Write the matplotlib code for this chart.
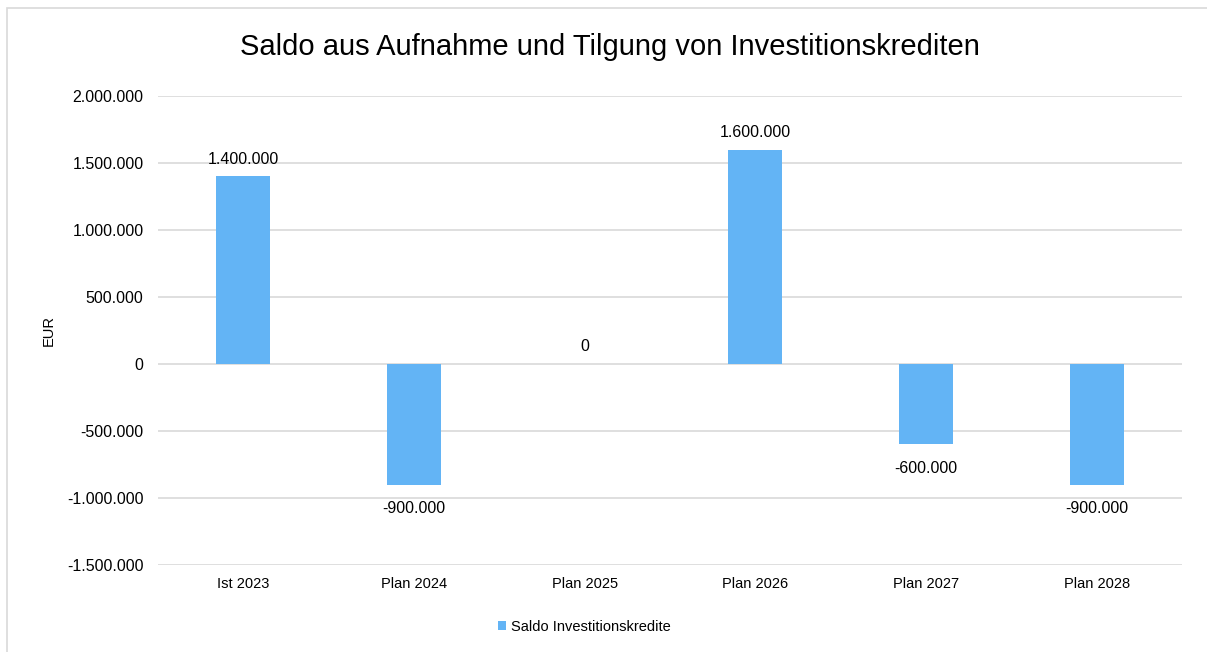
import matplotlib
matplotlib.use('Agg')
import matplotlib.pyplot as plt
from matplotlib.ticker import FuncFormatter
from matplotlib.patches import Rectangle

categories = ['Ist 2023', 'Plan 2024', 'Plan 2025', 'Plan 2026', 'Plan 2027', 'Plan 2028']
saldo = [1400000, -900000, 0, 1600000, -600000, -900000]
series_name = 'Saldo Investitionskredite'
title = 'Saldo aus Aufnahme und Tilgung von Investitionskrediten'

plt.rcParams['font.family'] = ['Liberation Sans', 'DejaVu Sans']

def de_fmt(v, pos=None):
    return f'{int(round(v)):,}'.replace(',', '.')

fig = plt.figure(figsize=(12.07, 6.52), dpi=100)
ax = fig.add_axes([158/1207, 1-565/652, (1182-158)/1207, (565-96)/652])

# chart frame
fig.patches.append(Rectangle((7/1207, -0.1), 1.2, 1.1 - 8/652,
                             transform=fig.transFigure, fill=False,
                             edgecolor='#D9D9D9', linewidth=1.2))

x = range(len(categories))
bars = ax.bar(x, saldo, width=0.316, color='#63B4F5', label=series_name, zorder=3)

ax.set_ylim(-1500000, 2000000)
ax.set_xlim(-0.5, len(categories) - 0.5)
ax.set_yticks(range(-1500000, 2000001, 500000))
ax.yaxis.set_major_formatter(FuncFormatter(de_fmt))
ax.grid(axis='y', color='#D9D9D9', linewidth=1.2, zorder=0)
ax.set_xticks(list(x))
ax.set_xticklabels(categories)
ax.tick_params(length=0, colors='#000000')
ax.tick_params(axis='y', pad=10.5, labelsize=11.5)
ax.tick_params(axis='x', pad=9, labelsize=10.5)
for s in ax.spines.values():
    s.set_visible(False)

for i, v in enumerate(saldo):
    if v >= 0:
        ax.annotate(de_fmt(v), (i, v), xytext=(0, 7), textcoords='offset points',
                    ha='center', va='bottom', fontsize=11.5)
    else:
        ax.annotate(de_fmt(v), (i, v), xytext=(0, -12), textcoords='offset points',
                    ha='center', va='top', fontsize=11.5)

ax.set_ylabel('EUR', fontsize=10.5, labelpad=8)
fig.text(610/1207, 1-47/652, title, ha='center', va='center', fontsize=21)

fig.legend(handles=[bars], labels=[series_name], loc='center',
           bbox_to_anchor=(584/1207, 1-627/652), frameon=False, fontsize=10.5,
           handlelength=0.6, handleheight=0.6, handletextpad=0.3)

fig.savefig('out.png', dpi=100)
